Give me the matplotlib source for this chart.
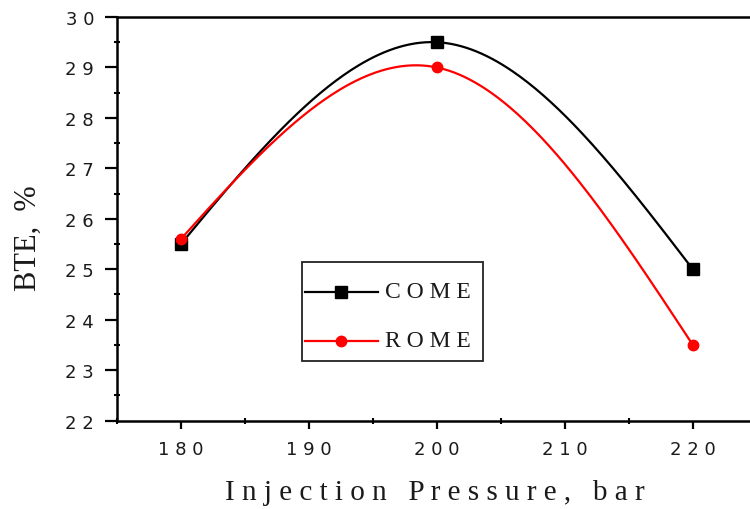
import numpy as np
import matplotlib
matplotlib.use("Agg")
import matplotlib.pyplot as plt
from matplotlib.lines import Line2D
from matplotlib.patches import Rectangle

# data
pressure = [180, 200, 220]
bte_come = [25.5, 29.5, 25.0]
bte_rome = [25.6, 29.0, 23.5]

x_ticks = [180, 190, 200, 210, 220]
x_tick_labels = ["1 8 0", "1 9 0", "2 0 0", "2 1 0", "2 2 0"]
y_ticks = [22, 23, 24, 25, 26, 27, 28, 29, 30]
y_tick_labels = ["2 2", "2 3", "2 4", "2 5", "2 6", "2 7", "2 8", "2 9", "3 0"]


def natural_spline(x, y, n=200):
    # natural cubic spline through the points (Origin "spline" connection)
    x = np.asarray(x, float)
    y = np.asarray(y, float)
    k = len(x)
    h = np.diff(x)
    A = np.zeros((k, k))
    r = np.zeros(k)
    A[0, 0] = A[-1, -1] = 1
    for i in range(1, k - 1):
        A[i, i - 1] = h[i - 1]
        A[i, i] = 2 * (h[i - 1] + h[i])
        A[i, i + 1] = h[i]
        r[i] = 6 * ((y[i + 1] - y[i]) / h[i] - (y[i] - y[i - 1]) / h[i - 1])
    M = np.linalg.solve(A, r)
    xs = np.linspace(x[0], x[-1], n)
    j = np.clip(np.searchsorted(x, xs) - 1, 0, k - 2)
    a = x[j + 1] - xs
    b = xs - x[j]
    hj = h[j]
    ys = (M[j] * a ** 3 + M[j + 1] * b ** 3) / (6 * hj) \
        + (y[j] - M[j] * hj ** 2 / 6) * a / hj \
        + (y[j + 1] - M[j + 1] * hj ** 2 / 6) * b / hj
    return xs, ys


fig = plt.figure(figsize=(7.5, 5.1), dpi=100)
ax = fig.add_axes([0.156, 0.1735, 0.853, 0.7912])

series = [
    ("C O M E", bte_come, "black", "s", 8.5),
    ("R O M E", bte_rome, "red", "o", 7.5),
]
for label, vals, col, mk, ms in series:
    xs, ys = natural_spline(pressure, vals)
    ax.plot(xs, ys, color=col, lw=1.6)
    ax.plot(pressure, vals, ls="none", marker=mk, ms=ms, color=col, clip_on=False)

ax.set_xlim(175, 225)
ax.set_ylim(22, 30)
ax.set_xticks(x_ticks)
ax.set_xticklabels(x_tick_labels)
ax.set_yticks(y_ticks)
ax.set_yticklabels(y_tick_labels)
ax.set_xticks(np.arange(175, 226, 5), minor=True)
ax.set_yticks(np.arange(22, 30.01, 0.5), minor=True)

for s in ["left", "top", "bottom", "right"]:
    ax.spines[s].set_linewidth(1.8)
ax.spines["right"].set_visible(False)

ax.tick_params(axis="y", which="major", direction="out", length=8.5, width=1.6, pad=8,
               labelsize=13, labelcolor="#1a1a1a")
ax.tick_params(axis="x", which="major", direction="out", length=6, width=1.6, pad=8,
               labelsize=13, labelcolor="#1a1a1a")
ax.tick_params(which="minor", direction="inout", length=5, width=1.5)
for t in ax.get_xticklabels() + ax.get_yticklabels():
    t.set_family("DejaVu Sans")

serif = ["Liberation Serif", "DejaVu Serif"]
ax.set_xlabel("I n j e c t i o n   P r e s s u r e ,   b a r", family=serif, fontsize=21,
              color="#1a1a1a")
ax.xaxis.set_label_coords(0.497, -0.177)
ax.xaxis.label.set_va("center")
ax.set_ylabel("BTE,  %", family=serif, fontsize=22, color="#1a1a1a")
ax.yaxis.set_label_coords(-0.139, 0.455)
ax.yaxis.label.set_va("center")

# legend box drawn by hand to match the Origin layout (figure pixels)
W, H = 750.0, 510.0
def fx(px):
    return px / W
def fy(py):
    return 1 - py / H

fig.patches.append(Rectangle((fx(302), fy(362)), fx(483) - fx(302), fy(263) - fy(362),
                             transform=fig.transFigure, fill=False, ec="#222222", lw=1.3))
for (label, vals, col, mk, ms), yy in zip(series, [293, 342]):
    fig.lines.append(Line2D([fx(305), fx(378)], [fy(yy), fy(yy)], transform=fig.transFigure,
                            color=col, lw=1.6))
    fig.lines.append(Line2D([fx(341)], [fy(yy)], transform=fig.transFigure, color=col,
                            marker=mk, ms=ms, ls="none"))
    fig.text(fx(385), fy(yy), label, family=serif, fontsize=17, color="#1a1a1a",
             ha="left", va="center")

fig.savefig("out.png", dpi=100)
